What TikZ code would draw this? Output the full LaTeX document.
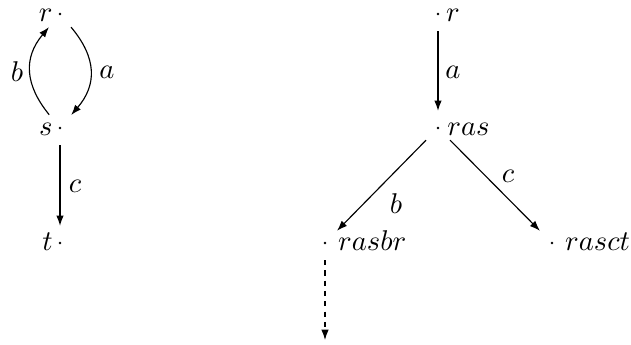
\documentclass[tikz,border=0pt]{standalone}
\usetikzlibrary{arrows.meta}
\begin{document}
\begin{tikzpicture}[x=0.35pt,y=-0.35pt,
  font=\fontsize{10pt}{12pt}\selectfont,
  vtx/.style={circle,minimum size=12pt,inner sep=0pt,outer sep=0pt},
  arr/.style={draw,line width=0.4pt,-{Latex[length=3.6pt,width=2.6pt]}},
  lbl/.style={inner sep=0pt},
  nm/.style={inner sep=0pt}]
\useasboundingbox (0,0) rectangle (631,345);
% left graph
\node[vtx] (r1) at (60,14) {};
\node[vtx] (s1) at (60,128) {};
\node[vtx] (t1) at (60,243) {};
% right tree
\node[vtx] (r2) at (438,14) {};
\node[vtx] (ras) at (438,128) {};
\node[vtx] (rasbr) at (325,243) {};
\node[vtx] (rasct) at (552,243) {};
\coordinate (down) at (325,340);
% dots
\foreach \n in {r1,s1,t1,r2,ras,rasbr,rasct}
  \fill (\n.center) circle (0.5pt);
% names
\node[nm,anchor=base east] (nr1) at ([xshift=-2.4pt,yshift=-2.5pt]r1.center) {$r$};
\node[nm,anchor=base east] (ns1) at ([xshift=-2.4pt,yshift=-2.5pt]s1.center) {$s$};
\node[nm,anchor=base east] (nt1) at ([xshift=-2.4pt,yshift=-2.5pt]t1.center) {$t$};
\node[nm,anchor=base west] (nr2) at ([xshift=2.6pt,yshift=-2.5pt]r2.center) {$r$};
\node[nm,anchor=base west] (nras) at ([xshift=3.1pt,yshift=-2.5pt]ras.center) {$ras$};
\node[nm,anchor=base west] (nrasbr) at ([xshift=4.4pt,yshift=-2.5pt]rasbr.center) {$rasbr$};
\node[nm,anchor=base west] (nrasct) at ([xshift=4.4pt,yshift=-2.5pt]rasct.center) {$rasct$};
% connectors
\draw[arr] (r1) .. controls (97,58) and (97,85) .. (s1);
\draw[arr] (s1) .. controls (25,85) and (23,58) .. (r1);
\draw[arr] (s1) -- (t1);
\draw[arr] (r2) -- (ras);
\draw[arr] (ras) -- (rasbr);
\draw[arr] (ras) -- (rasct);
\draw[arr,dash pattern=on 1.8pt off 1.8pt] (rasbr) -- (down);
% edge labels
\node[lbl] (la1) at (107,72) {$a$};
\node[lbl] (lb1) at (17,72) {$b$};
\node[lbl] (lc1) at (75,186) {$c$};
\node[lbl] (la2) at (453,72) {$a$};
\node[lbl] (lb2) at (396,204) {$b$};
\node[lbl] (lc2) at (508,176) {$c$};
\end{tikzpicture}
\end{document}
